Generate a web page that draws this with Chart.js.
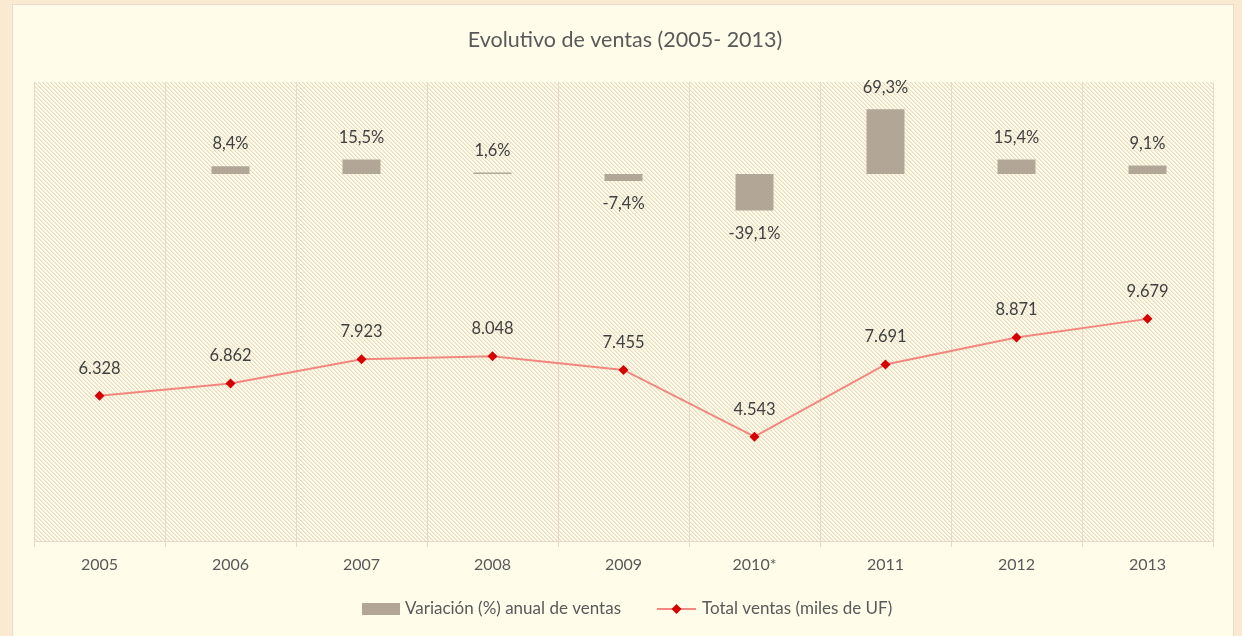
<!DOCTYPE html>
<html>
<head>
<meta charset="utf-8">
<script src="https://cdn.jsdelivr.net/npm/chart.js@4/dist/chart.umd.min.js"></script>
<style>
html,body{margin:0;padding:0;background:#FBEAD2;overflow:hidden;}
canvas{display:block;}
</style>
</head>
<body>
<canvas id="c" width="1242" height="636"></canvas>
<script>
const categories = ['2005','2006','2007','2008','2009','2010*','2011','2012','2013'];
const variation = [null, 8.4, 15.5, 1.6, -7.4, -39.1, 69.3, 15.4, 9.1];
const totals = [6328, 6862, 7923, 8048, 7455, 4543, 7691, 8871, 9679];
const titleText = 'Evolutivo de ventas (2005- 2013)';
const barLabel = 'Variación (%) anual de ventas';
const lineLabel = 'Total ventas (miles de UF)';

const FONT = 'Lato';
const TXT = '#404040';
const BAR = '#B2A696';
const LINE = '#F2877F';
const MARK = '#D50000';

function makePattern(ctx){
  const t = document.createElement('canvas');
  t.width = 4; t.height = 4;
  const c = t.getContext('2d');
  const img = c.createImageData(4,4);
  const bg=[255,253,234], ln=[233,220,197], mid=[244,235,215];
  for(let y=0;y<4;y++) for(let x=0;x<4;x++){
    let col = bg;
    if(x===y) col = ln;
    else if(x===(y+1)%4) col = mid;
    const i=(y*4+x)*4;
    img.data[i]=col[0];img.data[i+1]=col[1];img.data[i+2]=col[2];img.data[i+3]=255;
  }
  c.putImageData(img,0,0);
  return ctx.createPattern(t,'repeat');
}

function fmtThousands(v){
  return String(v).replace(/\B(?=(\d{3})+(?!\d))/g,'.');
}
function fmtPct(v){
  return v.toFixed(1).replace('.',',') + '%';
}

const bgPlugin = {
  id:'bgPlugin',
  beforeDraw(chart){
    const ctx = chart.ctx;
    const ca = chart.chartArea;
    ctx.save();
    ctx.fillStyle = '#FBEAD2';
    ctx.fillRect(0,0,chart.width,chart.height);
    ctx.fillStyle = '#FFFDEA';
    ctx.fillRect(12.5,4.5,1221,700);
    ctx.strokeStyle = '#E9D9C6';
    ctx.lineWidth = 1;
    ctx.strokeRect(12.5,4.5,1221,700);
    ctx.fillStyle = makePattern(ctx);
    ctx.fillRect(ca.left, ca.top, ca.right-ca.left, ca.bottom-ca.top);
    ctx.fillStyle = '#595959';
    ctx.font = '21.5px ' + FONT;
    ctx.textAlign = 'center';
    ctx.textBaseline = 'middle';
    ctx.fillText(titleText, 625, 40);
    ctx.restore();
  },
  afterDraw(chart){
    const ctx = chart.ctx;
    ctx.save();
    ctx.font = '16.5px ' + FONT;
    ctx.fillStyle = TXT;
    ctx.textAlign = 'center';
    ctx.textBaseline = 'middle';
    // bar labels
    const barMeta = chart.getDatasetMeta(1);
    barMeta.data.forEach((el,i)=>{
      const v = variation[i];
      if(v===null || v===undefined) return;
      const y = v>=0 ? Math.min(el.y, el.base) - 22 : Math.max(el.y, el.base) + 23;
      ctx.fillText(fmtPct(v), el.x, y);
    });
    // line labels
    const lineMeta = chart.getDatasetMeta(0);
    lineMeta.data.forEach((el,i)=>{
      ctx.fillText(fmtThousands(totals[i]), el.x, el.y - 27.5);
    });
    // legend
    ctx.font = '17px ' + FONT;
    const ly = 609;
    ctx.fillStyle = BAR;
    ctx.fillRect(362, ly-6, 38, 12);
    ctx.fillStyle = '#595959';
    ctx.textAlign = 'left';
    ctx.fillText(barLabel, 405, ly);
    const w1 = ctx.measureText(barLabel).width;
    const lx = 405 + w1 + 36;
    ctx.strokeStyle = LINE;
    ctx.lineWidth = 2;
    ctx.beginPath(); ctx.moveTo(lx, ly); ctx.lineTo(lx+39, ly); ctx.stroke();
    ctx.fillStyle = MARK;
    ctx.beginPath();
    const cx = lx+19.5;
    ctx.moveTo(cx, ly-5); ctx.lineTo(cx+5, ly); ctx.lineTo(cx, ly+5); ctx.lineTo(cx-5, ly); ctx.closePath(); ctx.fill();
    ctx.fillStyle = '#595959';
    ctx.fillText(lineLabel, lx+45, ly);
    ctx.restore();
  }
};

function build(){
  const ctx = document.getElementById('c').getContext('2d');
  new Chart(ctx, {
    type:'bar',
    data:{
      labels: categories,
      datasets:[
        {type:'line', label: lineLabel, data: totals, yAxisID:'y',
         borderColor: LINE, borderWidth: 2, tension: 0,
         pointStyle:'rectRot', pointRadius: 5, pointBackgroundColor: MARK, pointBorderColor: MARK, pointBorderWidth: 0,
         order: 0},
        {type:'bar', label: barLabel, data: variation, yAxisID:'y2',
         backgroundColor: BAR, barPercentage: 0.29, categoryPercentage: 1, order: 1}
      ]
    },
    options:{
      responsive:false,
      animation:false,
      layout:{padding:{left:34, right:29, top:82, bottom:0}},
      plugins:{legend:{display:false}, title:{display:false}, tooltip:{enabled:false}},
      scales:{
        x:{
          grid:{color:'#E8D8C5', offset:true, tickLength:6, lineWidth:1},
          border:{color:'#E8D8C5'},
          ticks:{color:'#595959', font:{family:FONT, size:16}, padding:8},
          afterFit(s){ s.height = 95; }
        },
        y:{display:false, min:0, max:20000},
        y2:{display:false, min:-392.5, max:98.4}
      }
    },
    plugins:[bgPlugin]
  });
}
if (document.fonts && document.fonts.load) {
  Promise.all([document.fonts.load('16px Lato'), document.fonts.load('21px Lato')]).then(build, build);
} else build();
</script>
</body>
</html>
